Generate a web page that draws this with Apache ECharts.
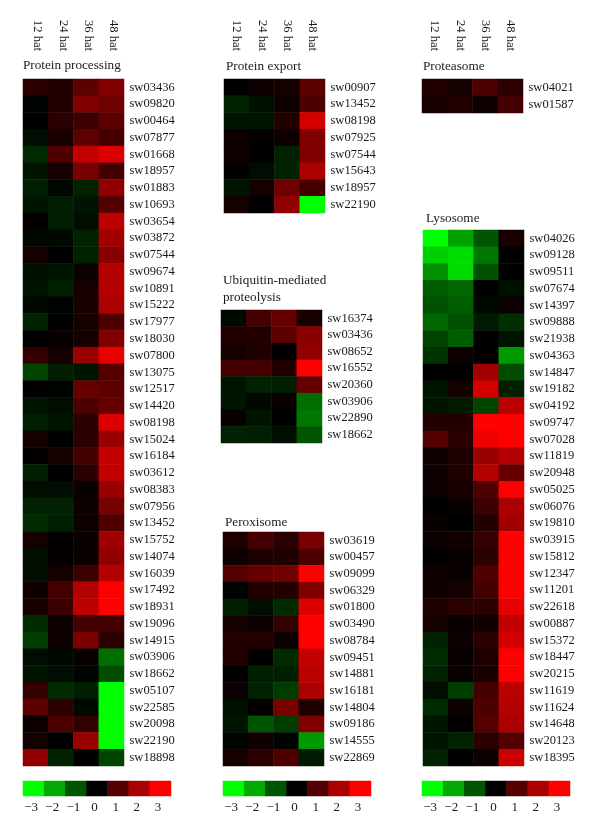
<!DOCTYPE html>
<html>
<head>
<meta charset="utf-8">
<title>Heatmaps</title>
<script src="https://cdn.jsdelivr.net/npm/echarts@6/dist/echarts.min.js"></script>
<style>
html, body { margin: 0; padding: 0; background: #fff; }
#contain { width: 600px; height: 835px; }
</style>
</head>
<body>
<div id="contain"></div>
<script>
const times = ['12 hat', '24 hat', '36 hat', '48 hat']
const scaleLabels = ['\u22123', '\u22122', '\u22121', '0', '1', '2', '3']
const scaleValues = [-3, -2, -1, 0, 1, 2, 3]

const processingIds = ['sw03436', 'sw09820', 'sw00464', 'sw07877', 'sw01668', 'sw18957', 'sw01883', 'sw10693', 'sw03654', 'sw03872', 'sw07544', 'sw09674', 'sw10891', 'sw15222', 'sw17977', 'sw18030', 'sw07800', 'sw13075', 'sw12517', 'sw14420', 'sw08198', 'sw15024', 'sw16184', 'sw03612', 'sw08383', 'sw07956', 'sw13452', 'sw15752', 'sw14074', 'sw16039', 'sw17492', 'sw18931', 'sw19096', 'sw14915', 'sw03906', 'sw18662', 'sw05107', 'sw22585', 'sw20098', 'sw22190', 'sw18898']
const processingValues = [
  [0.5, 0.4, 1.1, 1.5], [-0.05, 0.4, 1.5, 1.3], [0, 0.5, 0.7, 1.1], [-0.15, 0.3, 1.1, 0.8],
  [-0.5, 0.9, 2.3, 2.6], [-0.25, 0.3, 1.4, 0.8], [-0.35, -0.1, -0.4, 1.7], [-0.25, -0.35, -0.25, 1.0],
  [0.05, -0.35, -0.15, 2.2], [-0.1, -0.1, -0.4, 1.9], [0.25, 0, -0.4, 1.6], [-0.2, -0.25, 0.15, 2.1],
  [-0.25, -0.35, 0.25, 2.1], [-0.1, -0.05, 0.3, 2.0], [-0.4, 0, 0.25, 0.9], [0, 0.1, 0.25, 1.5],
  [0.6, 0.25, 1.8, 2.7], [-0.8, -0.35, -0.25, 1.0], [0, -0.05, 1.2, 1.1], [-0.25, -0.15, 0.9, 1.2],
  [-0.35, -0.25, 0.5, 2.6], [0.25, 0, 0.5, 1.8], [0.05, 0.25, 0.8, 2.3], [-0.35, 0, 0.5, 2.3],
  [-0.15, -0.15, 0.1, 1.8], [-0.4, -0.4, 0.15, 1.4], [-0.5, -0.35, 0.15, 0.9], [0.25, 0.05, 0.1, 1.9],
  [-0.15, 0.05, 0.1, 1.7], [-0.15, 0.25, 0.7, 2.1], [0.2, 0.8, 2.1, 3], [0.3, 0.7, 2.2, 3],
  [-0.5, 0.15, 0.8, 0.8], [-0.7, 0.15, 1.4, 0.5], [-0.15, -0.1, 0.1, -1.3], [-0.25, -0.15, -0.05, -0.9],
  [0.6, -0.5, -0.35, -3], [1.1, 0.5, -0.1, -3], [0.15, 0.9, 0.6, -3], [0.25, 0, 1.8, -3],
  [1.7, -0.4, 0, -0.8]
]

const exportIds = ['sw00907', 'sw13452', 'sw08198', 'sw07925', 'sw07544', 'sw15643', 'sw18957', 'sw22190']
const exportValues = [
  [0, 0.15, 0.25, 1.1], [-0.4, -0.2, 0.15, 0.9], [-0.25, -0.25, 0.4, 2.5], [0.15, 0.05, 0.15, 1.5],
  [0.2, 0, -0.4, 1.5], [0.05, -0.15, -0.4, 2.0], [-0.25, 0.25, 1.3, 0.8], [0.25, 0, 1.7, -3]
]

const ubiquitinIds = ['sw16374', 'sw03436', 'sw08652', 'sw16552', 'sw20360', 'sw03906', 'sw22890', 'sw18662']
const ubiquitinValues = [
  [-0.1, 0.8, 1.2, 0.3], [0.4, 0.4, 1.1, 1.6], [0.25, 0.35, 0, 1.7], [0.8, 0.8, 0.4, 3],
  [-0.25, -0.4, -0.35, 1.2], [-0.25, -0.1, 0.1, -1.3], [0.1, -0.25, 0, -1.4], [-0.4, -0.35, -0.15, -1.0]
]

const peroxisomeIds = ['sw03619', 'sw00457', 'sw09099', 'sw06329', 'sw01800', 'sw03490', 'sw08784', 'sw09451', 'sw14881', 'sw16181', 'sw14804', 'sw09186', 'sw14555', 'sw22869']
const peroxisomeValues = [
  [0.35, 0.8, 0.5, 1.4], [0.2, 0.35, 0.35, 0.9], [1.0, 1.2, 1.3, 3], [-0.05, 0.4, 0.4, 1.5],
  [-0.35, -0.15, -0.5, 2.6], [0.25, 0.15, 0.6, 3], [0.4, 0.4, 0.15, 3], [0.4, 0, -0.5, 2.3],
  [0, -0.35, -0.35, 2.2], [0.15, -0.4, -0.7, 2.0], [-0.2, 0.05, 1.4, 0.35], [-0.25, -1.0, -0.7, 1.5],
  [-0.05, 0.2, -0.05, -1.8], [0.25, 0.5, 0.9, -0.3]
]

const proteasomeIds = ['sw04021', 'sw01587']
const proteasomeValues = [[0.4, 0.25, 0.9, 0.5], [0.3, 0.4, 0.15, 0.8]]

const lysosomeIds = ['sw04026', 'sw09128', 'sw09511', 'sw07674', 'sw14397', 'sw09888', 'sw21938', 'sw04363', 'sw14847', 'sw19182', 'sw04192', 'sw09747', 'sw07028', 'sw11819', 'sw20948', 'sw05025', 'sw06076', 'sw19810', 'sw03915', 'sw15812', 'sw12347', 'sw11201', 'sw22618', 'sw00887', 'sw15372', 'sw18447', 'sw20215', 'sw11619', 'sw11624', 'sw14648', 'sw20123', 'sw18395']
const lysosomeValues = [
  [-3, -1.9, -1.0, 0.3], [-2.45, -2.6, -1.4, 0], [-1.7, -2.55, -0.95, 0], [-1.1, -1.2, 0, -0.2],
  [-0.95, -1.1, -0.1, 0.15], [-1.2, -0.95, -0.3, -0.55], [-0.8, -1.1, 0, -0.25], [-0.6, 0.15, 0, -1.8],
  [0, 0, 1.9, -0.9], [-0.25, 0.25, 2.5, -0.35], [-0.25, -0.3, -0.8, 2.2], [0.4, 0.4, 3, 3],
  [1.0, 0.5, 2.8, 3], [0.2, 0.35, 1.8, 2.1], [0.15, 0.35, 2.1, 1.2], [0.15, 0.3, 0.9, 3],
  [0, 0.1, 0.7, 2.0], [0.1, 0, 0.4, 1.9], [0.15, 0.2, 0.6, 3], [0, 0.1, 0.5, 3],
  [0.2, 0.1, 0.9, 3], [0.2, 0.25, 0.8, 3], [0.35, 0.5, 0.5, 2.7], [0.25, 0.1, 0.2, 2.3],
  [-0.4, 0.15, 0.5, 2.5], [-0.5, 0.1, 0.35, 3], [-0.4, 0.1, 0.3, 3], [-0.15, -0.7, 0.8, 2.2],
  [-0.5, 0.15, 0.9, 2.1], [-0.25, 0.05, 1.0, 2.0], [-0.25, -0.4, 0.5, 1.0], [-0.4, 0, 0.15, 2.4]
]

const font = '"Liberation Serif", serif'
const textColor = '#1a1a1a'

const panels = [
  { title: 'Protein processing', titleX: 23, titleY: 57, ids: processingIds, values: processingValues, left: 23, top: 79, height: 687, header: true, headerShifted: true },
  { title: 'Protein export', titleX: 226, titleY: 58, ids: exportIds, values: exportValues, left: 224, top: 79, height: 134, header: true },
  { title: 'Ubiquitin-mediated\nproteolysis', titleX: 223, titleY: 272, ids: ubiquitinIds, values: ubiquitinValues, left: 221, top: 310, height: 133 },
  { title: 'Peroxisome', titleX: 225, titleY: 514, ids: peroxisomeIds, values: peroxisomeValues, left: 223, top: 532, height: 234 },
  { title: 'Proteasome', titleX: 423, titleY: 58, ids: proteasomeIds, values: proteasomeValues, left: 422, top: 79, height: 34, header: true },
  { title: 'Lysosome', titleX: 426, titleY: 210, ids: lysosomeIds, values: lysosomeValues, left: 423, top: 230, height: 536 }
]
const scaleLefts = [23, 223, 422]

const title = []
const grid = []
const xAxis = []
const yAxis = []
const series = []

panels.forEach((p, i) => {
  title.push({
    text: p.title,
    left: p.titleX,
    top: p.titleY,
    padding: 0,
    textStyle: { fontFamily: font, fontSize: 13.2, fontWeight: 'normal', color: textColor, lineHeight: 17 }
  })
  grid.push({ left: p.left, top: p.top, width: 101, height: p.height })
  const headerLabel = {
    show: !!p.header,
    rotate: 90,
    margin: 28,
    fontFamily: font,
    fontSize: 12.5,
    color: textColor
  }
  // the first block's header sits 2px right of the cell centres
  if (p.headerShifted) {
    headerLabel.verticalAlign = 'bottom'
    headerLabel.lineHeight = 4
  }
  xAxis.push({
    type: 'category',
    gridIndex: i,
    position: 'top',
    data: times,
    axisLine: { show: false },
    axisTick: { show: false },
    splitLine: { show: false },
    axisLabel: headerLabel
  })
  yAxis.push({
    type: 'category',
    gridIndex: i,
    position: 'right',
    inverse: true,
    data: p.ids,
    axisLine: { show: false },
    axisTick: { show: false },
    splitLine: { show: false },
    axisLabel: { margin: 5.5, interval: 0, fontFamily: font, fontSize: 12.5, color: textColor }
  })
  const cells = []
  p.values.forEach((row, r) => {
    row.forEach((v, c) => cells.push([c, r, v]))
  })
  series.push({ type: 'heatmap', xAxisIndex: i, yAxisIndex: i, data: cells, silent: true })
})

// colour keys under each column
scaleLefts.forEach((left, k) => {
  const i = panels.length + k
  grid.push({ left: left, top: 781, width: 148, height: 15 })
  xAxis.push({
    type: 'category',
    gridIndex: i,
    data: scaleLabels,
    axisLine: { show: false },
    axisTick: { show: false },
    splitLine: { show: false },
    axisLabel: { margin: 5, interval: 0, padding: [0, 5, 0, 0], fontFamily: font, fontSize: 13, color: textColor }
  })
  yAxis.push({ type: 'category', gridIndex: i, data: ['key'], show: false })
  series.push({
    type: 'heatmap',
    xAxisIndex: i,
    yAxisIndex: i,
    data: scaleValues.map((v, c) => [c, 0, v]),
    silent: true
  })
})

const myChart = echarts.init(document.getElementById('contain'), null, { renderer: 'canvas' })
myChart.setOption({
  animation: false,
  backgroundColor: '#fff',
  title,
  grid,
  xAxis,
  yAxis,
  visualMap: {
    show: false,
    min: -3,
    max: 3,
    seriesIndex: series.map((s, i) => i),
    inRange: { color: ['#00ff00', '#000000', '#ff0000'] }
  },
  series
})
</script>
</body>
</html>
